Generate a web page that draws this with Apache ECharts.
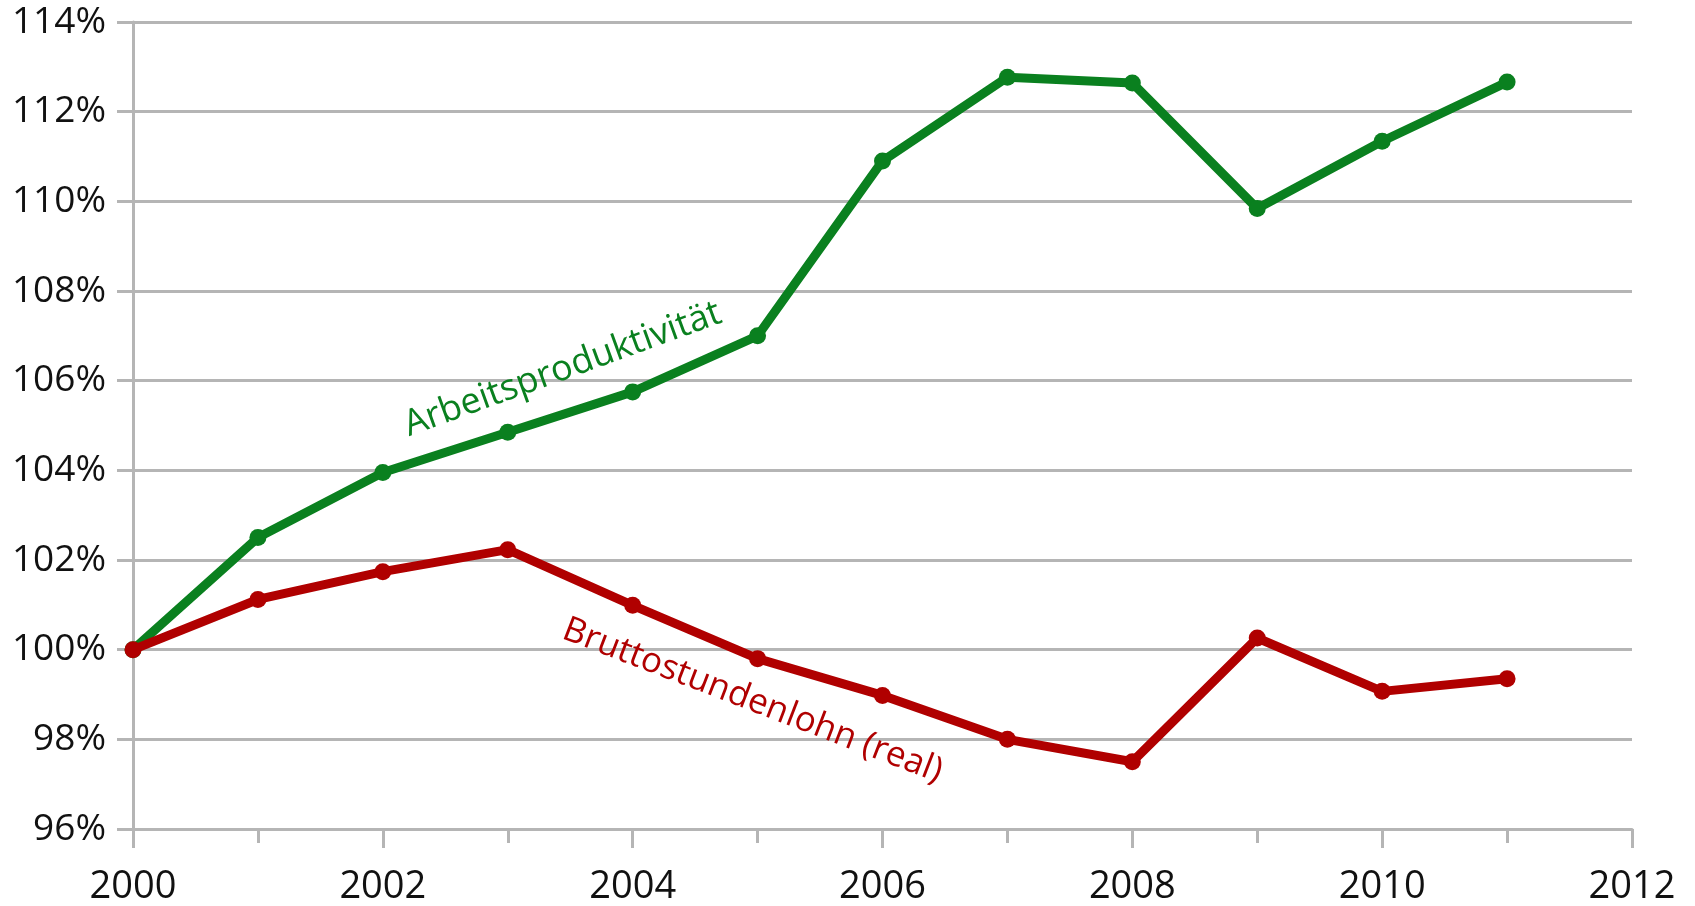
<!DOCTYPE html>
<html>
<head>
<meta charset="utf-8">
<script src="https://cdn.jsdelivr.net/npm/echarts@6/dist/echarts.min.js"></script>
<style>
  html, body { margin: 0; padding: 0; background: #fff; }
  #main { width: 1695px; height: 906px; }
</style>
</head>
<body>
<div id="main"></div>
<script>
// Jahre und Indexwerte (2000 = 100%)
var years = [2000, 2001, 2002, 2003, 2004, 2005, 2006, 2007, 2008, 2009, 2010, 2011];
var produktivitaet = [100, 102.5, 103.95, 104.85, 105.75, 107.0, 110.9, 112.77, 112.64, 109.84, 111.34, 112.66];
var lohn = [100, 101.12, 101.74, 102.23, 100.99, 99.8, 98.98, 98.0, 97.5, 100.26, 99.07, 99.35];

// Beschriftungen an den Linien: [Text, Jahr, Wert, Drehung in Grad]
var labelProd = ['Arbeitsproduktivität', 2003.44, 106.25, 20];
var labelLohn = ['Bruttostundenlohn (real)', 2004.96, 98.86, -21];

var green = '#0a801f';
var red = '#b00000';
var grey = '#b5b5b5';
var font = '"Open Sans", sans-serif';

function pairs(ys) {
  return years.map(function (y, i) { return [y, ys[i]]; });
}

var chart = echarts.init(document.getElementById('main'));
chart.setOption({
  animation: false,
  backgroundColor: '#fff',
  grid: { left: 133, right: 63, top: 22, bottom: 77, containLabel: false },
  xAxis: {
    type: 'value',
    min: 2000,
    max: 2012,
    interval: 2,
    axisLine: { show: true, lineStyle: { color: grey, width: 3 } },
    axisTick: { show: true, length: 19, lineStyle: { color: grey, width: 3 } },
    minorTick: { show: true, splitNumber: 2, length: 14, lineStyle: { color: grey, width: 3 } },
    splitLine: { show: false },
    axisLabel: {
      color: '#111', fontFamily: font, fontSize: 38, margin: 39,
      formatter: function (v) { return String(v); }
    }
  },
  yAxis: {
    type: 'value',
    min: 96,
    max: 114,
    interval: 2,
    axisLine: { show: true, lineStyle: { color: grey, width: 3 } },
    axisTick: { show: true, length: 16, lineStyle: { color: grey, width: 3 } },
    splitLine: { show: true, lineStyle: { color: grey, width: 3 } },
    axisLabel: {
      color: '#111', fontFamily: font, fontSize: 37, margin: 27,
      formatter: function (v) { return v + '%'; }
    }
  },
  series: [
    {
      name: 'Arbeitsproduktivität',
      type: 'line',
      data: pairs(produktivitaet),
      symbol: 'circle',
      symbolSize: 17,
      lineStyle: { color: green, width: 9 },
      itemStyle: { color: green },
      z: 3
    },
    {
      name: 'Bruttostundenlohn (real)',
      type: 'line',
      data: pairs(lohn),
      symbol: 'circle',
      symbolSize: 17,
      lineStyle: { color: red, width: 9 },
      itemStyle: { color: red },
      z: 4
    }
  ]
});

function textAt(lbl, color, size) {
  var p = chart.convertToPixel({ gridIndex: 0 }, [lbl[1], lbl[2]]);
  return {
    type: 'text',
    x: p[0],
    y: p[1],
    rotation: lbl[3] * Math.PI / 180,
    z: 10,
    style: {
      text: lbl[0],
      fill: color,
      font: size + 'px ' + font,
      textAlign: 'center',
      textVerticalAlign: 'middle'
    }
  };
}

chart.setOption({
  graphic: [textAt(labelProd, green, 36), textAt(labelLohn, red, 35)]
});
</script>
</body>
</html>
